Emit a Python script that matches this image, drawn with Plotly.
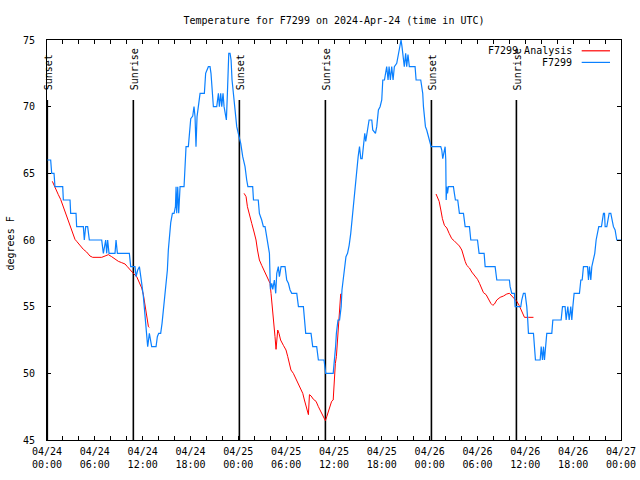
import pandas as pd
import plotly.graph_objects as go

BASE = "2024-04-24 00:00"

# Observed station temperatures (hours since 04/24 00:00 UTC, deg F)
obs_hours = [0.05,0.46,0.59,0.88,1.0,1.97,2.05,2.89,2.97,3.64,3.72,4.56,4.68,4.85,5.1,5.31,6.86,7.07,7.36,7.49,7.61,7.78,8.53,8.66,8.83,10.33,10.5,11.04,11.17,11.38,11.59,11.75,11.88,12.09,12.21,12.38,12.5,12.63,12.84,13.0,13.13,13.68,13.84,14.01,14.26,14.43,14.6,14.76,14.93,15.1,15.22,15.35,15.52,15.73,15.94,16.11,16.19,16.27,16.4,16.52,16.69,17.19,17.32,17.44,17.73,17.86,18.03,18.28,18.44,18.57,18.69,18.82,18.99,19.2,19.74,19.9,20.24,20.45,20.57,20.7,20.87,21.29,21.5,21.62,21.79,21.92,22.08,22.21,22.38,22.5,22.63,22.8,22.96,23.09,23.21,23.38,23.59,23.8,24.09,24.3,24.55,24.84,25.05,25.2,25.8,25.9,26.5,26.64,26.93,27.14,27.35,27.48,27.69,27.9,28.02,28.19,28.32,28.52,28.69,28.82,29.02,29.15,29.36,29.86,30.07,30.28,30.49,30.7,31.33,31.54,32.16,32.29,32.45,33.12,33.33,33.83,34.04,34.75,34.88,34.96,35.9,36.0,36.2,36.3,36.5,36.7,36.9,37.0,37.2,37.4,37.5,37.7,37.9,38.1,38.3,38.4,38.6,38.7,38.86,39.03,39.2,39.36,39.53,39.69,39.86,39.98,40.11,40.23,40.4,40.74,40.86,41.2,41.36,41.57,41.78,41.99,42.12,42.33,42.45,42.61,42.78,42.91,43.07,43.24,43.41,43.57,43.87,44.08,44.28,44.41,44.53,44.7,44.82,44.99,45.12,45.28,45.45,46.17,46.3,46.88,47.01,47.13,47.22,47.34,47.47,47.63,47.84,48.05,48.18,49.39,49.52,49.64,49.81,49.94,50.02,50.07,50.15,50.24,50.35,50.98,51.1,51.23,51.52,51.6,51.73,52.24,52.37,52.45,52.99,53.16,54.0,54.12,54.2,54.83,54.96,56.21,56.42,58.0,58.09,58.3,58.63,58.72,59.43,59.55,59.76,59.97,60.1,60.18,60.3,60.39,61.02,61.15,61.27,61.86,61.99,62.15,62.28,62.4,62.53,62.69,63.32,63.45,64.49,64.66,64.99,65.12,65.33,65.5,65.7,65.83,65.96,66.12,66.79,66.96,67.13,67.29,67.8,67.92,68.05,68.21,68.34,68.55,68.71,68.88,69.05,69.21,69.55,69.68,69.8,69.93,70.01,70.22,70.39,70.51,70.72,70.89,71.05,71.26,71.47,72.0]
obs_temp = [66,66,65,65,64,64,63,63,62,62,61,61,60,61,61,60,60,59,60,59,60,59,59,60,59,59,58,58,57.25,57.75,58,57,56.75,55.75,54.75,53.75,53,52,53,52.25,52,52,52.75,53,53,53.75,54.75,55.5,56.6,57.75,59.25,60.3,61.3,62,62,62.5,64,62,64,62,64,64,66.25,67,67,68.25,69.1,69.3,70,69.25,67,69.25,70,71,71,72.5,73,73,72.5,71,70,70,71,70,71,70,71,70,69.25,69,71,74,74,73.5,72,71,70,68.5,67.75,67.25,66.25,65.5,64.5,64,64,63,63,62,61.5,61,61,60.5,60,59,56.3,56.75,56.3,57,56,57.5,58,57.25,58,58,57,56.75,56.25,56,56,55,55,54,53,53,52,52,51,51,50.5,50,50,50.6,52,53,54,54,55,56.25,57.25,58,58.75,59,59.6,60.5,61.75,62.5,63.5,64.5,65.5,66.25,67,66.1,66.1,67,68,67.4,68,68.5,69,69,68.25,68,68.5,69.75,70,70.5,72,72,72.6,73,72,73,72,73,72,73,73.25,74,74.5,75,74.5,73.75,73,74,73,73.9,73,73,72,72,71.4,71,70,69.25,68.5,68.25,67.75,67.25,67,67,66.75,66.1,66.5,67,66,63,64,63.5,64,64,63.5,63,63,62.5,62,62,61.5,61,61,60,60,59.5,59,59,58,58,57,57,56.5,56,56,55,55,55.5,56,56,55.5,55,54,53,53,52,51,51,52,51,52,51,52,53,53,54,54,55,55,54,55,54,55,54,55,56,56,57,57,58,58,57,58,57,58,58.5,59,60,60.5,61,61,61.5,62,62,61,61,61.5,62,62,61.5,61,60.75,60,60]

# Analysis temperatures, three runs (None separates them)
ana_hours = [0.67,1.0,1.42,1.71,2.05,2.26,2.55,2.88,3.1,3.3,3.51,3.72,4.14,4.56,4.97,5.39,5.73,6.86,7.28,7.7,8.11,8.53,8.95,9.37,9.79,10.08,10.41,10.83,11.25,11.67,11.88,12.09,12.3,12.5,12.72,12.84,
             None,
             24.72,24.97,25.14,25.39,25.68,25.97,26.22,26.4,26.64,26.93,27.23,27.48,27.77,27.98,28.1,28.23,28.35,28.48,28.6,28.73,28.82,28.94,29.1,29.3,29.65,29.98,30.2,30.4,30.6,30.9,31.24,31.53,31.83,32.08,32.29,32.5,32.66,32.79,32.92,33.13,33.42,33.75,34.04,34.34,34.59,34.8,34.92,35.09,35.3,35.5,35.7,35.9,36.05,36.17,36.3,36.42,36.55,36.67,36.76,36.84,36.97,
             None,
             48.8,48.97,49.19,49.4,49.6,49.85,50.15,50.44,50.77,51.06,51.4,51.73,52.03,52.24,52.45,52.65,52.99,53.28,53.7,54.0,54.25,54.54,54.75,55.08,55.38,55.67,55.92,56.13,56.42,56.84,57.26,57.67,58.0,58.3,58.6,58.93,59.22,59.43,59.68,59.89,60.39,61.02]
ana_temp = [64.4,63.9,63.4,63.05,62.5,62,61.6,61.1,60.75,60.4,60.05,59.9,59.6,59.3,59.1,58.8,58.7,58.7,58.8,58.9,58.75,58.55,58.4,58.3,58.2,58,57.75,57.5,57.25,56.75,56.4,55.9,55.1,54.25,53.5,53.45,
            None,
            63.5,63.25,62.5,62,61.25,60.6,60,59.25,58.5,58.1,57.75,57.4,57,56.75,56,55.25,54.5,53.6,52.75,51.8,52.75,53.25,53,52.5,52.1,51.75,51.25,50.75,50.25,50,49.6,49.25,48.9,48.5,48,47.5,47.25,46.9,48.4,48.3,48.05,47.9,47.5,47.1,46.8,46.55,46.45,46.75,47.1,47.5,47.9,48,49.75,50.75,51.25,52.25,54,54.25,55.75,55.95,55.95,
            None,
            63.45,63.25,62.9,62.25,61.6,61.1,60.9,60.5,60.1,59.95,59.75,59.55,59.25,58.75,58.4,58.1,57.9,57.6,57.3,57.05,56.75,56.25,56.05,55.9,55.55,55.25,55.1,55.2,55.5,55.7,55.8,55.95,56,55.8,55.6,55.4,55.1,54.8,54.45,54.2,54.2,54.2]

sunset_hours = [0.04, 24.13, 48.22]
sunrise_hours = [10.83, 34.92, 58.88]

tick_hours = list(range(0, 73, 2))
tick_labels = {0: "04/24<br>00:00", 6: "04/24<br>06:00", 12: "04/24<br>12:00", 18: "04/24<br>18:00",
               24: "04/25<br>00:00", 30: "04/25<br>06:00", 36: "04/25<br>12:00", 42: "04/25<br>18:00",
               48: "04/26<br>00:00", 54: "04/26<br>06:00", 60: "04/26<br>12:00", 66: "04/26<br>18:00",
               72: "04/27<br>00:00"}
y_ticks = [45, 50, 55, 60, 65, 70, 75]

base = pd.Timestamp(BASE)
def to_time(hs):
    return [None if h is None else base + pd.Timedelta(hours=h) for h in hs]

FONT = "DejaVu Sans Mono"
RED = "#ff0000"
BLUE = "#0a80ff"

fig = go.Figure()
fig.add_trace(go.Scatter(x=to_time(ana_hours), y=ana_temp, mode="lines", name="F7299 Analysis",
                         line=dict(color=RED, width=1), connectgaps=False))
fig.add_trace(go.Scatter(x=to_time(obs_hours), y=obs_temp, mode="lines", name="F7299",
                         line=dict(color=BLUE, width=1.2)))

shapes = []
annotations = []
for label, hours in (("Sunset", sunset_hours), ("Sunrise", sunrise_hours)):
    for h in hours:
        t = base + pd.Timedelta(hours=h)
        shapes.append(dict(type="line", xref="x", yref="y", x0=t, x1=t, y0=45, y1=70.5,
                           line=dict(color="black", width=1.6), layer="below"))
        annotations.append(dict(x=t, y=71.1, xref="x", yref="y", text=label, showarrow=False,
                                textangle=-90, xanchor="center", yanchor="bottom", xshift=1,
                                font=dict(family=FONT, size=10, color="black")))

# legend drawn gnuplot-style (text right, sample line on the right)
legend_items = [("F7299 Analysis", RED, 0.973), ("F7299", BLUE, 0.944)]
for text, col, yp in legend_items:
    annotations.append(dict(x=0.918, y=yp, xref="paper", yref="paper", text=text, showarrow=False,
                            xanchor="right", yanchor="middle",
                            font=dict(family=FONT, size=10, color="black")))
    shapes.append(dict(type="line", xref="paper", yref="paper", x0=0.9315, x1=0.9808, y0=yp, y1=yp,
                       line=dict(color=col, width=1.2)))

annotations.append(dict(x=-0.0636, y=0.4925, xref="paper", yref="paper", text="degrees F",
                        showarrow=False, textangle=-90, xanchor="center", yanchor="middle",
                        font=dict(family=FONT, size=10, color="black")))

fig.update_layout(
    width=640, height=480,
    margin=dict(l=47, r=19, t=40, b=40, autoexpand=False),
    paper_bgcolor="white", plot_bgcolor="white",
    showlegend=False,
    font=dict(family=FONT, size=10, color="black"),
    title=dict(text="Temperature for F7299 on 2024-Apr-24 (time in UTC)", x=0.5, xanchor="center",
               xref="paper", y=1 - 20.5 / 480, yref="container", yanchor="middle",
               font=dict(family=FONT, size=10, color="black")),
    shapes=shapes, annotations=annotations,
)
fig.update_xaxes(
    type="date", automargin=False,
    range=[base, base + pd.Timedelta(hours=72)],
    tickmode="array",
    tickvals=[base + pd.Timedelta(hours=h) for h in tick_hours],
    ticktext=[tick_labels.get(h, "") for h in tick_hours],
    ticks="inside", ticklen=4, tickcolor="black", tickwidth=1,
    showline=True, linecolor="black", linewidth=1, mirror="allticks",
    showgrid=False, zeroline=False, ticklabelstandoff=2,
    tickfont=dict(family=FONT, size=10, color="black"),
)
fig.update_yaxes(
    range=[45, 75], tickmode="array", tickvals=y_ticks, ticktext=[str(v) for v in y_ticks],
    automargin=False,
    ticks="inside", ticklen=4, tickcolor="black", tickwidth=1,
    showline=True, linecolor="black", linewidth=1, mirror="allticks",
    showgrid=False, zeroline=False, ticklabelstandoff=9,
    tickfont=dict(family=FONT, size=10, color="black"),
)

fig.write_html("out.html")
